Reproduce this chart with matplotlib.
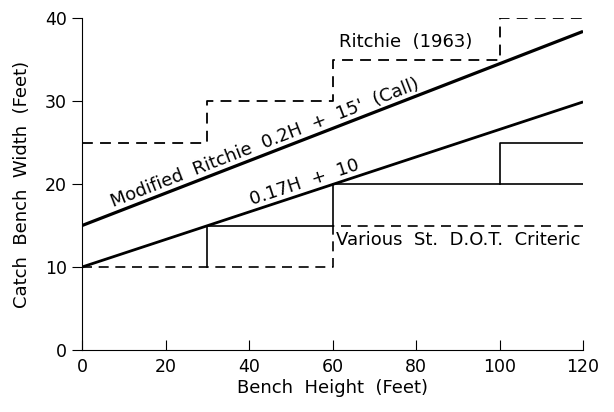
import numpy as np
import matplotlib
matplotlib.use("Agg")
import matplotlib.pyplot as plt

# bench height (ft) vs catch bench width (ft)
ritchie_x = [0, 30, 30, 60, 60, 100, 100, 120]
ritchie_y = [25, 25, 30, 30, 35, 35, 40, 40]

mod_ritchie_x = [0, 120]
mod_ritchie_y = [15, 38.4]

line017_x = [0, 120]
line017_y = [10, 29.9]

dot_solid_x = [30, 30, 60, 60, 120]
dot_solid_y = [10, 15, 15, 20, 20]
dot_solid2_x = [100, 100, 120]
dot_solid2_y = [20, 25, 25]
dot_dash_x = [0, 60, 60, 120]
dot_dash_y = [10, 10, 15, 15]

xticks = [0, 20, 40, 60, 80, 100, 120]
yticks = [0, 10, 20, 30, 40]

plt.rcParams['font.family'] = ['DejaVu Sans']
fig = plt.figure(figsize=(6.14, 4.12), dpi=100)
ax = fig.add_axes([0.1336, 0.1505, 0.816, 0.8055])

dash = (0, (6, 4))
ax.plot(ritchie_x, ritchie_y, color='black', lw=1.3, linestyle=dash)
ax.plot(mod_ritchie_x, mod_ritchie_y, color='black', lw=2.3, solid_capstyle='butt')
ax.plot(line017_x, line017_y, color='black', lw=2.0, solid_capstyle='butt')
ax.plot(dot_solid_x, dot_solid_y, color='black', lw=1.2)
ax.plot(dot_solid2_x, dot_solid2_y, color='black', lw=1.2)
ax.plot(dot_dash_x, dot_dash_y, color='black', lw=1.2, linestyle=dash)

ax.set_xlim(0, 120)
ax.set_ylim(0, 40)
ax.set_xticks(xticks)
ax.set_yticks(yticks)
ax.spines['top'].set_visible(False)
ax.spines['right'].set_visible(False)
ax.tick_params(axis='x', direction='in', length=7, labelsize=12.5, pad=6)
ax.tick_params(axis='y', direction='out', length=7, labelsize=12.5, pad=4)
ax.set_xlabel('Bench  Height  (Feet)', fontsize=13, labelpad=2)
ax.set_ylabel('Catch  Bench  Width  (Feet)', fontsize=13, labelpad=10)


def screen_angle(xs, ys):
    p = ax.transData.transform(np.column_stack([xs, ys]))
    return np.degrees(np.arctan2(p[1, 1] - p[0, 1], p[1, 0] - p[0, 0]))


ax.text(43.7, 24.9, "Modified  Ritchie  0.2H  +  15'  (Call)", fontsize=13,
        rotation=screen_angle(mod_ritchie_x, mod_ritchie_y),
        ha='center', va='center', rotation_mode='anchor')
ax.text(53.2, 20.2, "0.17H  +  10", fontsize=13,
        rotation=screen_angle(line017_x, line017_y),
        ha='center', va='center', rotation_mode='anchor')
ax.text(61.5, 37.1, "Ritchie  (1963)", fontsize=13, ha='left', va='center')
ax.text(60.8, 13.3, "Various  St.  D.O.T.  Criteric", fontsize=13,
        ha='left', va='center', clip_on=False)

fig.savefig('out.png', dpi=100)
